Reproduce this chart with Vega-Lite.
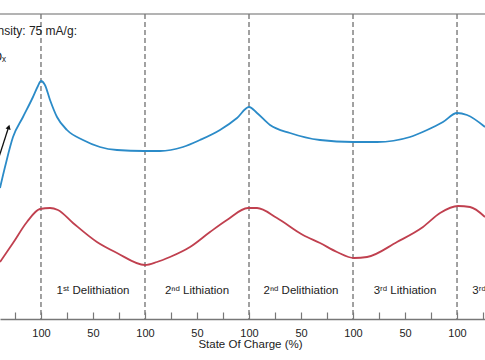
{
  "$schema": "https://vega.github.io/schema/vega-lite/v6.json",
  "width": 485,
  "height": 305,
  "autosize": {"type": "none"},
  "padding": {"left": 0, "top": 14, "right": 0, "bottom": 41},
  "background": "white",
  "view": {"stroke": null},
  "config": {"font": "Liberation Sans"},
  "resolve": {"axis": {"x": "independent", "y": "independent"}},
  "datasets": {
    "curves": [
      {"series": "charge", "pos": 0.606, "v": 131},
      {"series": "charge", "pos": 0.654, "v": 152},
      {"series": "charge", "pos": 0.731, "v": 182},
      {"series": "charge", "pos": 0.827, "v": 202},
      {"series": "charge", "pos": 0.923, "v": 222},
      {"series": "charge", "pos": 0.971, "v": 233},
      {"series": "charge", "pos": 1.0, "v": 238},
      {"series": "charge", "pos": 1.038, "v": 234},
      {"series": "charge", "pos": 1.087, "v": 219},
      {"series": "charge", "pos": 1.154, "v": 202},
      {"series": "charge", "pos": 1.25, "v": 189},
      {"series": "charge", "pos": 1.404, "v": 179},
      {"series": "charge", "pos": 1.567, "v": 172},
      {"series": "charge", "pos": 1.731, "v": 169},
      {"series": "charge", "pos": 1.99, "v": 168},
      {"series": "charge", "pos": 2.144, "v": 168},
      {"series": "charge", "pos": 2.365, "v": 172},
      {"series": "charge", "pos": 2.529, "v": 179},
      {"series": "charge", "pos": 2.721, "v": 189},
      {"series": "charge", "pos": 2.885, "v": 201},
      {"series": "charge", "pos": 3.0, "v": 212},
      {"series": "charge", "pos": 3.077, "v": 206},
      {"series": "charge", "pos": 3.202, "v": 194},
      {"series": "charge", "pos": 3.394, "v": 186},
      {"series": "charge", "pos": 3.683, "v": 179},
      {"series": "charge", "pos": 4.0, "v": 177},
      {"series": "charge", "pos": 4.231, "v": 177},
      {"series": "charge", "pos": 4.548, "v": 182},
      {"series": "charge", "pos": 4.712, "v": 189},
      {"series": "charge", "pos": 4.865, "v": 197},
      {"series": "charge", "pos": 5.0, "v": 206},
      {"series": "charge", "pos": 5.096, "v": 204},
      {"series": "charge", "pos": 5.269, "v": 192},
      {"series": "discharge", "pos": 0.606, "v": 57},
      {"series": "discharge", "pos": 0.731, "v": 76},
      {"series": "discharge", "pos": 0.865, "v": 97},
      {"series": "discharge", "pos": 0.99, "v": 110},
      {"series": "discharge", "pos": 1.087, "v": 111},
      {"series": "discharge", "pos": 1.163, "v": 109},
      {"series": "discharge", "pos": 1.308, "v": 96},
      {"series": "discharge", "pos": 1.538, "v": 77},
      {"series": "discharge", "pos": 1.731, "v": 66},
      {"series": "discharge", "pos": 2.0, "v": 54},
      {"series": "discharge", "pos": 2.115, "v": 57},
      {"series": "discharge", "pos": 2.24, "v": 62},
      {"series": "discharge", "pos": 2.433, "v": 72},
      {"series": "discharge", "pos": 2.625, "v": 87},
      {"series": "discharge", "pos": 2.788, "v": 99},
      {"series": "discharge", "pos": 2.99, "v": 111},
      {"series": "discharge", "pos": 3.077, "v": 111},
      {"series": "discharge", "pos": 3.269, "v": 101},
      {"series": "discharge", "pos": 3.519, "v": 84},
      {"series": "discharge", "pos": 3.683, "v": 76},
      {"series": "discharge", "pos": 3.846, "v": 67},
      {"series": "discharge", "pos": 4.01, "v": 61},
      {"series": "discharge", "pos": 4.135, "v": 62},
      {"series": "discharge", "pos": 4.423, "v": 77},
      {"series": "discharge", "pos": 4.673, "v": 92},
      {"series": "discharge", "pos": 4.837, "v": 106},
      {"series": "discharge", "pos": 5.01, "v": 113},
      {"series": "discharge", "pos": 5.125, "v": 112},
      {"series": "discharge", "pos": 5.269, "v": 102}
    ],
    "bounds": [{"pos": 1}, {"pos": 2}, {"pos": 3}, {"pos": 4}, {"pos": 5}],
    "segments": [
      {"pos": 1.5, "label": "1ˢᵗ Delithiation"},
      {"pos": 2.5, "label": "2ⁿᵈ Lithiation"},
      {"pos": 3.5, "label": "2ⁿᵈ Delithiation"},
      {"pos": 4.5, "label": "3ʳᵈ Lithiation"},
      {"pos": 5.5, "label": "3ʳᵈ Delithiation"}
    ],
    "notes": [
      {"pos": 1.346, "v": 284, "label": "Current density: 75 mA/g:"},
      {"pos": 0.664, "v": 258, "label": "SiOₓ"}
    ],
    "arrow": [{"pos": 0.587, "v": 159, "pos2": 0.683, "v2": 190}],
    "arrowhead": [{"pos": 0.69, "v": 192}]
  },
  "layer": [
    {
      "data": {"values": [{"top": 305}]},
      "mark": {"type": "rule", "color": "#9a9a9a", "strokeWidth": 1.5},
      "encoding": {
        "y": {"field": "top", "type": "quantitative", "scale": {"domain": [0, 305], "nice": false, "zero": false}, "axis": null}
      }
    },
    {
      "data": {"name": "bounds"},
      "mark": {"type": "rule", "color": "#7a7a7a", "strokeWidth": 1.4, "strokeDash": [5, 3]},
      "encoding": {
        "x": {"field": "pos", "type": "quantitative", "scale": {"domain": [0.606, 5.269], "nice": false, "zero": false}, "axis": null}
      }
    },
    {
      "data": {"name": "curves"},
      "mark": {"type": "line", "interpolate": "monotone", "strokeWidth": 1.8, "clip": true},
      "encoding": {
        "x": {
          "field": "pos", "type": "quantitative",
          "scale": {"domain": [0.606, 5.269], "nice": false, "zero": false},
          "axis": {
            "title": "State Of Charge (%)",
            "values": [0.75, 1, 1.25, 1.5, 1.75, 2, 2.25, 2.5, 2.75, 3, 3.25, 3.5, 3.75, 4, 4.25, 4.5, 4.75, 5, 5.25],
            "labelExpr": "datum.value % 1 == 0 ? '100' : (datum.value % 1 == 0.5 ? '50' : '')",
            "grid": false,
            "domainColor": "#777777",
            "domainWidth": 1.3,
            "tickColor": "#777777",
            "tickWidth": 1.2,
            "tickSize": -7,
            "labelPadding": 15,
            "labelFontSize": 11,
            "labelColor": "#222222",
            "labelFont": "Liberation Sans",
            "labelFlush": false,
            "labelOverlap": false,
            "titleFontSize": 11.5,
            "titleFontWeight": "normal",
            "titleColor": "#222222",
            "titleFont": "Liberation Sans",
            "titleX": 250,
            "titleY": 28,
            "titleBaseline": "alphabetic",
            "titleAlign": "center",
            "titleAnchor": null
          }
        },
        "y": {"field": "v", "type": "quantitative", "scale": {"domain": [0, 305], "nice": false, "zero": false}, "axis": null},
        "color": {
          "field": "series", "type": "nominal",
          "scale": {"domain": ["charge", "discharge"], "range": ["#2b8bc8", "#c0404f"]},
          "legend": null
        }
      }
    },
    {
      "data": {"name": "arrow"},
      "mark": {"type": "rule", "color": "#111111", "strokeWidth": 1.3, "clip": true},
      "encoding": {
        "x": {"field": "pos", "type": "quantitative", "scale": {"domain": [0.606, 5.269], "nice": false, "zero": false}, "axis": null},
        "y": {"field": "v", "type": "quantitative", "scale": {"domain": [0, 305], "nice": false, "zero": false}, "axis": null},
        "x2": {"field": "pos2"},
        "y2": {"field": "v2"}
      }
    },
    {
      "data": {"name": "arrowhead"},
      "mark": {"type": "point", "shape": "triangle-up", "filled": true, "color": "#111111", "size": 28, "angle": 17, "opacity": 1, "clip": true},
      "encoding": {
        "x": {"field": "pos", "type": "quantitative", "scale": {"domain": [0.606, 5.269], "nice": false, "zero": false}, "axis": null},
        "y": {"field": "v", "type": "quantitative", "scale": {"domain": [0, 305], "nice": false, "zero": false}, "axis": null}
      }
    },
    {
      "data": {"name": "segments"},
      "mark": {"type": "text", "fontSize": 11.5, "color": "#222222", "align": "center", "baseline": "alphabetic", "font": "Liberation Sans", "clip": true},
      "encoding": {
        "x": {"field": "pos", "type": "quantitative", "scale": {"domain": [0.606, 5.269], "nice": false, "zero": false}, "axis": null},
        "y": {"datum": 25, "type": "quantitative", "scale": {"domain": [0, 305], "nice": false, "zero": false}, "axis": null},
        "text": {"field": "label"}
      }
    },
    {
      "data": {"name": "notes"},
      "mark": {"type": "text", "fontSize": 12, "color": "#222222", "align": "right", "baseline": "alphabetic", "font": "Liberation Sans", "clip": true},
      "encoding": {
        "x": {"field": "pos", "type": "quantitative", "scale": {"domain": [0.606, 5.269], "nice": false, "zero": false}, "axis": null},
        "y": {"field": "v", "type": "quantitative", "scale": {"domain": [0, 305], "nice": false, "zero": false}, "axis": null},
        "text": {"field": "label"}
      }
    }
  ]
}
